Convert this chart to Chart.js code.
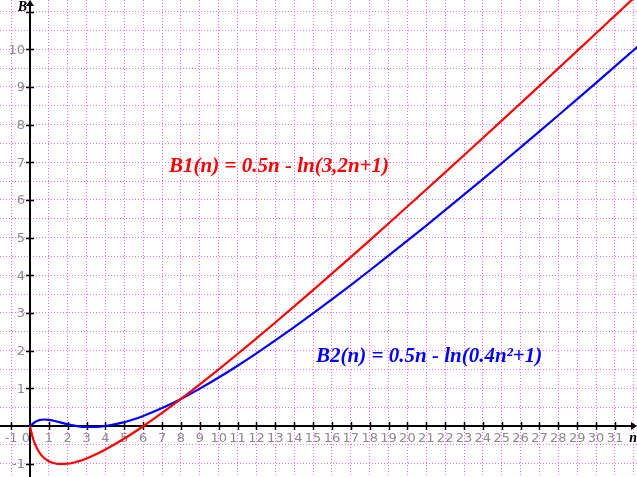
<!DOCTYPE html>
<html>
<head>
<meta charset="utf-8">
<script src="https://cdn.jsdelivr.net/npm/chart.js@4/dist/chart.umd.min.js"></script>
<style>
html,body{margin:0;padding:0;background:#fff;}
#wrap{width:637px;height:477px;position:relative;}
</style>
</head>
<body>
<div id="wrap"><canvas id="c"></canvas></div>
<script>
// ---- data ----
const nRed  = [0, 0.1, 0.25, 0.5, 0.75, 1, 1.25, 1.5, 2, 2.5, 3, 3.5, 4, 5, 6, 7, 8, 9, 10, 11, 12, 13, 14, 15, 16, 17, 18, 19, 20, 21, 22, 23, 24, 25, 26, 27, 28, 29, 30, 31, 32, 33];
const b1    = [0, -0.228, -0.463, -0.706, -0.849, -0.935, -0.984, -1.008, -1.001, -0.947, -0.861, -0.751, -0.625, -0.333, -0.006, 0.347, 0.719, 1.106, 1.503, 1.911, 2.326, 2.748, 3.176, 3.608, 4.045, 4.485, 4.929, 5.376, 5.826, 6.278, 6.732, 7.188, 7.646, 8.106, 8.567, 9.029, 9.494, 9.959, 10.425, 10.893, 11.361, 11.831];
const nBlue = [0, 0.25, 0.5, 0.75, 1, 1.25, 1.5, 2, 2.5, 3, 3.5, 4, 5, 6, 7, 8, 9, 10, 11, 12, 13, 14, 15, 16, 17, 18, 19, 20, 21, 22, 23, 24, 25, 26, 27, 28, 29, 30, 31, 32, 33];
const b2    = [0, 0.100, 0.155, 0.172, 0.164, 0.140, 0.108, 0.045, -0.003, -0.026, -0.025, -0.001, 0.102, 0.266, 0.475, 0.719, 0.991, 1.286, 1.600, 1.929, 2.272, 2.626, 2.989, 3.361, 3.741, 4.128, 4.521, 4.919, 5.322, 5.729, 6.141, 6.556, 6.975, 7.396, 7.821, 8.249, 8.679, 9.111, 9.546, 9.982, 10.421];

const xTicks  = [-1,0,1,2,3,4,5,6,7,8,9,10,11,12,13,14,15,16,17,18,19,20,21,22,23,24,25,26,27,28,29,30,31,32];
const xLabels = ['-1','0','1','2','3','4','5','6','7','8','9','10','11','12','13','14','15','16','17','18','19','20','21','22','23','24','25','26','27','28','29','30','31',''];
const yTicks  = [-1,-0.5,0,0.5,1,1.5,2,2.5,3,3.5,4,4.5,5,5.5,6,6.5,7,7.5,8,8.5,9,9.5,10,10.5,11];
const yLabels = ['-1','','','','1','','2','','3','','4','','5','','6','','7','','8','','9','','10','',''];

const label1 = 'B1(n) = 0.5n - ln(3,2n+1)';
const label2 = 'B2(n) = 0.5n - ln(0.4n²+1)';
const label1At = [7.37, 6.74];
const label2At = [15.16, 1.69];
const xTitle = 'n';
const yTitle = 'B';

const GRID = '#ff66ff';
const TICKFONT = '13px "DejaVu Sans", sans-serif';
const TICKCOLOR = '#8a8a8a';

function zeroPad(scale){ scale.paddingTop=0; scale.paddingBottom=0; scale.paddingLeft=0; scale.paddingRight=0; }

const axesPlugin = {
  id: 'axesPlugin',
  beforeDatasetsDraw(chart){
    const {ctx, chartArea:a, scales:{x, y}} = chart;
    const x0 = Math.round(x.getPixelForValue(0));
    const y0 = Math.round(y.getPixelForValue(0));
    ctx.save();
    ctx.strokeStyle = '#000'; ctx.fillStyle = '#000';
    ctx.lineWidth = 2;
    ctx.beginPath();
    ctx.moveTo(a.left, y0); ctx.lineTo(a.right - 2, y0);
    ctx.moveTo(x0, a.bottom); ctx.lineTo(x0, a.top + 2);
    ctx.stroke();
    ctx.lineWidth = 1.5;
    ctx.beginPath();
    xTicks.forEach(v => {
      if (v === 0 || v === 32) return;
      const px = Math.round(x.getPixelForValue(v)) + 0.5;
      ctx.moveTo(px, y0 - 4); ctx.lineTo(px, y0 + 4);
    });
    yTicks.forEach(v => {
      if (v === 0 || v % 1 !== 0) return;
      const py = Math.round(y.getPixelForValue(v)) + 0.5;
      ctx.moveTo(x0 - 4, py); ctx.lineTo(x0 + 4, py);
    });
    ctx.stroke();
    // arrows
    ctx.beginPath();
    ctx.moveTo(a.right, y0); ctx.lineTo(a.right - 6, y0 - 4); ctx.lineTo(a.right - 6, y0 + 4); ctx.closePath();
    ctx.moveTo(x0, a.top); ctx.lineTo(x0 - 4, a.top + 6); ctx.lineTo(x0 + 4, a.top + 6); ctx.closePath();
    ctx.fill();
    // tick labels
    ctx.font = TICKFONT;
    ctx.fillStyle = TICKCOLOR;
    ctx.textBaseline = 'middle';
    xTicks.forEach((v, i) => {
      const t = xLabels[i];
      if (!t) return;
      let px = x.getPixelForValue(v);
      if (v === 0) px -= 4;
      ctx.textAlign = 'center';
      ctx.fillText(t, px, y0 + 13);
    });
    yTicks.forEach((v, i) => {
      const t = yLabels[i];
      if (!t) return;
      ctx.textAlign = 'right';
      ctx.fillText(t, x0 - 5, y.getPixelForValue(v) + 1);
    });
    ctx.restore();
  },
  afterDatasetsDraw(chart){
    const {ctx, chartArea:a, scales:{x, y}} = chart;
    const x0 = x.getPixelForValue(0);
    const y0 = y.getPixelForValue(0);
    ctx.save();
    ctx.textBaseline = 'alphabetic';
    ctx.textAlign = 'left';
    ctx.font = 'italic bold 21px "Liberation Serif", serif';
    ctx.fillStyle = '#ff0000';
    ctx.fillText(label1, x.getPixelForValue(label1At[0]), y.getPixelForValue(label1At[1]));
    ctx.fillStyle = '#0000ff';
    ctx.fillText(label2, x.getPixelForValue(label2At[0]), y.getPixelForValue(label2At[1]));
    ctx.fillStyle = '#000';
    ctx.font = 'italic bold 14px "Liberation Serif", serif';
    ctx.textAlign = 'right';
    ctx.fillText(yTitle, x0 - 3, a.top + 11);
    ctx.fillText(xTitle, a.right, y0 + 16);
    ctx.restore();
  }
};

new Chart(document.getElementById('c'), {
  type: 'line',
  data: {
    datasets: [
      { label: 'B1', data: nRed.map((n, i) => ({x: n, y: b1[i]})), borderColor: '#ff0000', borderWidth: 2.2, pointRadius: 0, fill: false, cubicInterpolationMode: 'monotone' },
      { label: 'B2', data: nBlue.map((n, i) => ({x: n, y: b2[i]})), borderColor: '#0000ff', borderWidth: 2.2, pointRadius: 0, fill: false, cubicInterpolationMode: 'monotone' }
    ]
  },
  options: {
    responsive: true,
    maintainAspectRatio: false,
    animation: false,
    devicePixelRatio: 1,
    layout: { padding: 0 },
    plugins: { legend: { display: false }, tooltip: { enabled: false } },
    scales: {
      x: {
        type: 'linear',
        min: -1.59, max: 32.168,
        position: { y: 0 },
        afterBuildTicks: s => { s.ticks = xTicks.map(v => ({value: v})); },
        afterFit: zeroPad,
        grid: { color: GRID, lineWidth: 1, drawTicks: false },
        border: { display: false, dash: [1, 2] },
        ticks: { display: false }
      },
      y: {
        type: 'linear',
        min: -1.354, max: 11.309,
        position: { x: 0 },
        afterBuildTicks: s => { s.ticks = yTicks.map(v => ({value: v})); },
        afterFit: zeroPad,
        grid: { color: GRID, lineWidth: 1, drawTicks: false },
        border: { display: false, dash: [1, 2] },
        ticks: { display: false }
      }
    }
  },
  plugins: [axesPlugin]
});
</script>
</body>
</html>
